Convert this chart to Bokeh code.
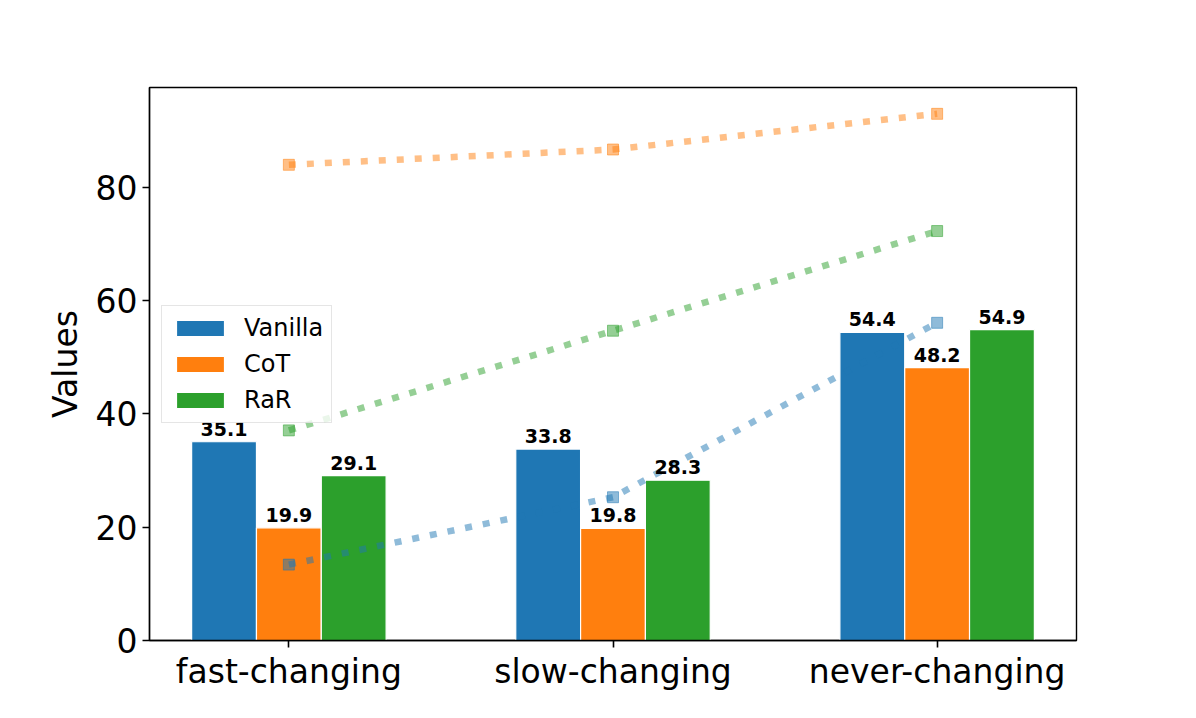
from bokeh.plotting import figure
from bokeh.models import Range1d, FixedTicker, Legend, LegendItem, ColumnDataSource
from bokeh.core.properties import value
from bokeh.embed import file_html
from bokeh.resources import INLINE

categories = ["fast-changing", "slow-changing", "never-changing"]
methods = ["Vanilla", "CoT", "RaR"]
vanilla = [35.1, 33.8, 54.4]
cot = [19.9, 19.8, 48.2]
rar = [29.1, 28.3, 54.9]
line_vanilla = [13.4, 25.3, 56.1]
line_cot = [84.0, 86.7, 93.0]
line_rar = [37.1, 54.7, 72.3]

colors = ["#1f77b4", "#ff7f0e", "#2ca02c"]
FONT = "DejaVu Sans"
bar_width = 0.2

bars = [vanilla, cot, rar]
lines = [line_vanilla, line_cot, line_rar]

ymax = max(max(l) for l in lines + bars) * 1.05
n = len(categories)
x0 = -(bar_width * 1.5) - 0.05 * (n - 1 + 3 * bar_width)
x1 = (n - 1) + bar_width * 1.5 + 0.05 * (n - 1 + 3 * bar_width)

p = figure(width=1180, height=702, output_backend="svg", toolbar_location=None,
           x_range=Range1d(x0, x1), y_range=Range1d(0, ymax),
           min_border_left=149, min_border_right=104, min_border_top=87, min_border_bottom=62)
p.grid.visible = False
p.outline_line_color = "black"
p.outline_line_width = 1.4
p.outline_line_alpha = 1.0

renderers = []
for j, (vals, c) in enumerate(zip(bars, colors)):
    xs = [i + (j - 1) * bar_width for i in range(n)]
    src = ColumnDataSource(dict(x=xs, top=vals))
    r = p.vbar(x="x", top="top", width=bar_width, bottom=0, source=src,
               fill_color=c, line_color="white", line_width=1.2)
    renderers.append(r)

for vals, c in zip(lines, colors):
    xs = list(range(n))
    p.line(xs, vals, line_color=c, line_alpha=0.5, line_width=6.5, line_dash="7 11", line_cap="butt")
    p.scatter(xs, vals, marker="square", size=11, fill_color=c, fill_alpha=0.5,
              line_color=c, line_alpha=0.5, line_width=1)

for j, vals in enumerate(bars):
    xs = [i + (j - 1) * bar_width for i in range(n)]
    src = ColumnDataSource(dict(x=xs, y=vals, lab=[f"{v:.1f}" for v in vals]))
    p.text(x="x", y="y", text="lab", source=src, text_align="center", text_baseline="alphabetic",
           y_offset=-13, text_font=value(FONT), text_font_style="bold", text_font_size="19px",
           text_color="black")

legend = Legend(items=[LegendItem(label=m, renderers=[r]) for m, r in zip(methods, renderers)],
                location="center_left")
legend.label_text_font = FONT
legend.label_text_font_size = "24px"
legend.label_text_color = "black"
legend.glyph_width = 60
legend.glyph_height = 20
legend.label_height = 28
legend.spacing = 8
legend.padding = 8
legend.margin = 12
legend.label_standoff = 14
legend.border_line_color = "#cccccc"
legend.border_line_width = 1.2
legend.background_fill_alpha = 0.8
p.add_layout(legend, "center")

p.xaxis.ticker = FixedTicker(ticks=list(range(n)))
p.xaxis.major_label_overrides = {i: c for i, c in enumerate(categories)}
p.yaxis.ticker = FixedTicker(ticks=[0, 20, 40, 60, 80])
p.yaxis.axis_label = "Values"
for ax in (p.xaxis[0], p.yaxis[0]):
    ax.major_label_text_font = FONT
    ax.major_label_text_font_size = "33px"
    ax.major_label_text_color = "black"
    ax.axis_label_text_font = FONT
    ax.axis_label_text_font_size = "33px"
    ax.axis_label_text_font_style = "normal"
    ax.axis_label_text_color = "black"
    ax.minor_tick_line_color = None
    ax.major_tick_out = 7
    ax.major_tick_in = 0
    ax.major_tick_line_width = 1.6
    ax.major_tick_line_color = "black"
    ax.axis_line_color = "black"
    ax.axis_line_width = 1.4
p.yaxis.major_label_standoff = 5
p.xaxis.major_label_standoff = 4
p.yaxis.axis_label_standoff = 8

open("out.html", "w").write(file_html(p, INLINE))
